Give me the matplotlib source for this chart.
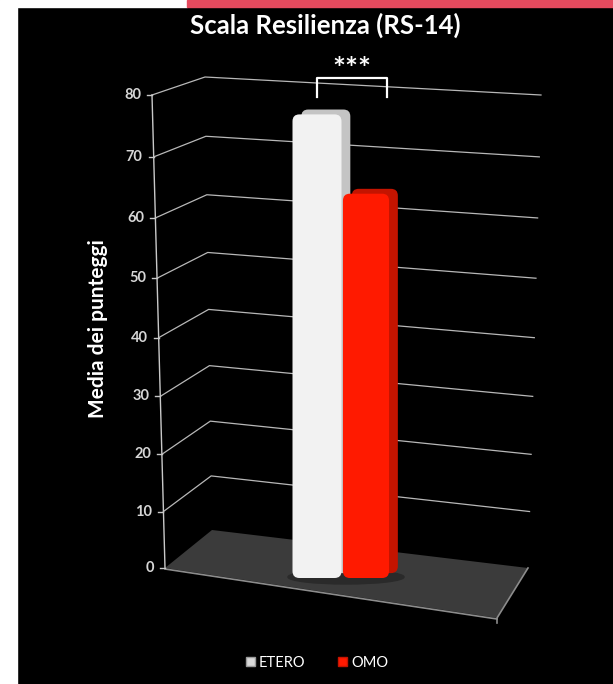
import matplotlib
matplotlib.use('Agg')
import matplotlib.pyplot as plt
from matplotlib.patches import Rectangle, Polygon, Ellipse, FancyBboxPatch, Patch

plt.rcParams['font.family'] = ['Lato', 'DejaVu Sans']

# dati
gruppi = ['ETERO', 'OMO']
medie = [76, 63]
colori = ['#f2f2f2', '#ff1a00']
colori_lato = ['#c4c4c4', '#c41400']
ticks = [0, 10, 20, 30, 40, 50, 60, 70, 80]
titolo = 'Scala Resilienza (RS-14)'
ylab = 'Media dei punteggi'
signif = '***'

W, H = 613, 684
fig = plt.figure(figsize=(W/100, H/100), dpi=100, facecolor='black')

# sfondo / cornice 3D in pixel
bg = fig.add_axes([0, 0, 1, 1], zorder=0)
bg.set_xlim(0, W)
bg.set_ylim(H, 0)
bg.axis('off')
bg.add_patch(Rectangle((0, 0), W, H, color='black', zorder=0))
bg.add_patch(Rectangle((0, 0), 17, H, color='white', zorder=1))
bg.add_patch(Rectangle((0, 0), 187, 7, color='white', zorder=1))
bg.add_patch(Rectangle((187, 0), W-187, 7, color='#e64a5e', zorder=1))

# angoli del grafico (pavimento e livello 80)
base = {'FL': (165, 568), 'BL': (212, 530), 'BR': (528, 568), 'FR': (497, 618)}
cima = {'FL': (152, 95), 'BL': (205, 77), 'BR': (541, 95)}
c = 0.000637

def tv(v):
    return (v/(1-c*v)) / (80/(1-c*80))

def pt(k, v):
    t = tv(v)
    return (base[k][0] + t*(cima[k][0]-base[k][0]),
            base[k][1] + t*(cima[k][1]-base[k][1]))

# pavimento
bg.add_patch(Polygon([base['FL'], base['BL'], base['BR'], base['FR']],
                     closed=True, facecolor='#3b3b3b', edgecolor='none', zorder=2))
bg.plot([base['FL'][0], base['FR'][0]], [base['FL'][1]+1, base['FR'][1]+1],
        color='#8c8c8c', lw=1.2, zorder=3)
bg.plot([base['BR'][0], base['FR'][0], base['FR'][0]],
        [base['BR'][1], base['FR'][1], base['FR'][1]+5], color='#8c8c8c', lw=1.2, zorder=3)
bg.add_patch(Ellipse((346, 577), 116, 14, color='#2a2a2a', zorder=3))

# griglia sulle pareti
for v in ticks[1:]:
    p1, p2, p3 = pt('FL', v), pt('BL', v), pt('BR', v)
    bg.plot([p1[0], p2[0], p3[0]], [p1[1], p2[1], p3[1]], color='#b8b8b8', lw=0.9, zorder=2)

# asse verticale + tacche + etichette
a0, a1 = pt('FL', 0), pt('FL', 80)
bg.plot([a0[0], a1[0]], [a0[1], a1[1]], color='#c8c8c8', lw=1.0, zorder=3)
for v in ticks:
    x, y = pt('FL', v)
    bg.plot([x-5, x], [y, y], color='#c8c8c8', lw=1.0, zorder=3)
    bg.text(x-11, y, str(v), ha='right', va='center', color='#d6d6d6', fontsize=10.5,
            fontweight='bold', zorder=3)

bg.text(98, 329, ylab, rotation=90, ha='center', va='center', color='white',
        fontsize=15, fontweight='bold')
bg.text(325, 25, titolo, ha='center', va='center', color='white', fontsize=18.5, fontweight='bold')

# barre
px_u = 49.0    # pixel per unita' x
px_v = 6.1     # pixel per unita' y
x_left, x_right = -1, 2
y_top = 90
left_px = 317 + x_left*px_u
bot_px = 578
ax = fig.add_axes([left_px/W, (H-bot_px)/H, (x_right-x_left)*px_u/W, y_top*px_v/H], zorder=2)
ax.set_xlim(x_left, x_right)
ax.set_ylim(0, y_top)
ax.axis('off')
ax.patch.set_alpha(0)

asp = (1/px_v)/(1/px_u)
larg = [1.0, 0.94]
for i, (m, col, cl) in enumerate(zip(medie, colori, colori_lato)):
    lato = ax.bar(i + 0.18, m, width=larg[i], bottom=0.8, color=cl)
    fronte = ax.bar(i, m, width=larg[i], color=col)
    for r, fc in [(lato[0], cl), (fronte[0], col)]:
        r.set_visible(False)
        ax.add_patch(FancyBboxPatch((r.get_x(), r.get_y()), r.get_width(), r.get_height(),
                                    boxstyle='round,pad=0,rounding_size=0.14',
                                    mutation_aspect=asp, facecolor=fc, edgecolor='none',
                                    zorder=2 + i))

# parentesi significativita'
xb0, xb1 = 0, 1.43
ax.plot([xb0, xb0, xb1, xb1], [78.9, 82, 82, 78.9], color='white', lw=1.6,
        clip_on=False, zorder=5)
ax.text((xb0+xb1)/2, 83.3, signif, ha='center', va='center', color='white',
        fontsize=22, fontweight='bold', clip_on=False)

# legenda
handles = [Patch(facecolor='#d9d9d9', edgecolor='#9a9a9a'), Patch(facecolor='#ff1a00', edgecolor='#c41400')]
fig.legend(handles, gruppi, loc='center', bbox_to_anchor=(317/W, 1-663/H), ncol=2,
           frameon=False, fontsize=10.5, labelcolor='white', handlelength=0.6,
           handleheight=0.6, handletextpad=0.3, columnspacing=2.2)

fig.savefig('out.png', dpi=100, facecolor='black')
